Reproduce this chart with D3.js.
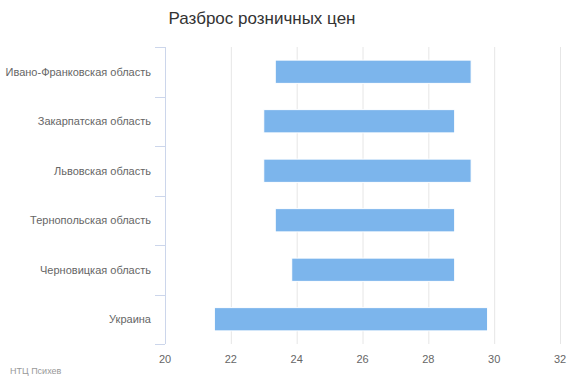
<!DOCTYPE html>
<html>
<head>
<meta charset="utf-8">
<script src="https://cdn.jsdelivr.net/npm/d3@7"></script>
<style>
  body { margin: 0; background: #fff; }
  svg { display: block; font-family: "Liberation Sans", Arial, sans-serif; }
</style>
</head>
<body>
<svg id="chart"></svg>
<script>
const categories = ['Ивано-Франковская область', 'Закарпатская область', 'Львовская область',
    'Тернопольская область', 'Черновицкая область', 'Украина'];
const lowValues = [23.35, 23.0, 23.0, 23.35, 23.85, 21.5];
const highValues = [29.3, 28.8, 29.3, 28.8, 28.8, 29.8];
const xTicks = [20, 22, 24, 26, 28, 30, 32];

const width = 570, height = 380;
const margin = {top: 47, right: 10, bottom: 36, left: 165};

const svg = d3.select('#chart').attr('width', width).attr('height', height);

const innerHeight = height - margin.top - margin.bottom;

const xscale = d3.scaleLinear().domain([20, 32]).range([0, 395]);
const yscale = d3.scaleBand().domain(categories).range([0, innerHeight]).paddingInner(0.53).paddingOuter(0.265);
const band = d3.scaleBand().domain(categories).range([0, innerHeight]);

const chart = svg.append('g').attr('transform', `translate(${margin.left}, ${margin.top})`);

// grid
chart.selectAll('line.grid').data(xTicks.slice(1)).enter().append('line')
    .attr('class', 'grid')
    .attr('x1', d => xscale(d) + 0.5).attr('x2', d => xscale(d) + 0.5)
    .attr('y1', 0).attr('y2', innerHeight)
    .attr('stroke', '#e6e6e6');

// bars
chart.selectAll('rect').data(categories).enter().append('rect')
    .attr('x', (d, i) => xscale(lowValues[i]))
    .attr('y', d => yscale(d))
    .attr('width', (d, i) => xscale(highValues[i]) - xscale(lowValues[i]))
    .attr('height', yscale.bandwidth())
    .attr('fill', '#7cb5ec')
    .attr('stroke', '#fff')
    .attr('stroke-width', 1);

// category axis
const yaxis = chart.append('g');
yaxis.append('line').attr('x1', 0.5).attr('x2', 0.5).attr('y1', 0).attr('y2', innerHeight).attr('stroke', '#ccd6eb');
const boundaries = categories.map(c => band(c)).concat([innerHeight]);
yaxis.selectAll('line.tick').data(boundaries).enter().append('line')
    .attr('x1', -10).attr('x2', 0)
    .attr('y1', d => Math.round(d) + 0.5).attr('y2', d => Math.round(d) + 0.5)
    .attr('stroke', '#ccd6eb');
yaxis.selectAll('text').data(categories).enter().append('text')
    .attr('x', -14)
    .attr('y', d => band(d) + band.bandwidth() / 2 + 4)
    .attr('text-anchor', 'end')
    .attr('font-size', 11)
    .attr('fill', '#666')
    .text(d => d);

// value axis labels
chart.append('g').selectAll('text').data(xTicks).enter().append('text')
    .attr('x', d => xscale(d))
    .attr('y', innerHeight + 19)
    .attr('text-anchor', 'middle')
    .attr('font-size', 11)
    .attr('fill', '#666')
    .text(d => d);

// title
svg.append('text')
    .attr('x', 262).attr('y', 24)
    .attr('text-anchor', 'middle')
    .attr('font-size', 17)
    .attr('fill', '#333')
    .text('Разброс розничных цен');

// credits
svg.append('text')
    .attr('x', 10).attr('y', 374)
    .attr('font-size', 9)
    .attr('fill', '#999')
    .text('НТЦ Психев');
</script>
</body>
</html>
